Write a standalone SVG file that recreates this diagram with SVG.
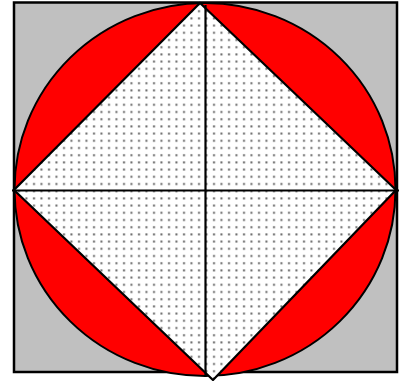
<svg xmlns="http://www.w3.org/2000/svg" width="404" height="381" viewBox="0 0 404 381">
<defs>
<pattern id="dots" x="0" y="0" width="7.5" height="7.2" patternUnits="userSpaceOnUse">
<rect x="3" y="3" width="2" height="2" fill="#666"/>
</pattern>
<style>
.ln{stroke:#000;stroke-width:2.2;fill:none}
</style>
</defs>
<rect width="404" height="381" fill="#fff"/>
<g id="square"><rect x="14" y="2.5" width="383" height="369.5" fill="#c0c0c0" stroke="#000" stroke-width="2.5"/></g>
<g id="circle"><ellipse cx="205" cy="189.5" rx="190.5" ry="186.5" fill="#ff0000" stroke="#000" stroke-width="2"/></g>
<g id="diamond">
<polygon points="200,3 396,190 213,380 14,190" fill="#fff"/>
<polygon points="200,3 396,190 213,380 14,190" fill="url(#dots)" stroke="#000" stroke-width="2.2" stroke-linejoin="miter"/>
</g>
<g id="connectors">
<line class="ln" x1="12" y1="190.5" x2="399" y2="190.5"/>
<line class="ln" x1="205.5" y1="5" x2="205.5" y2="377"/>
</g>
</svg>
